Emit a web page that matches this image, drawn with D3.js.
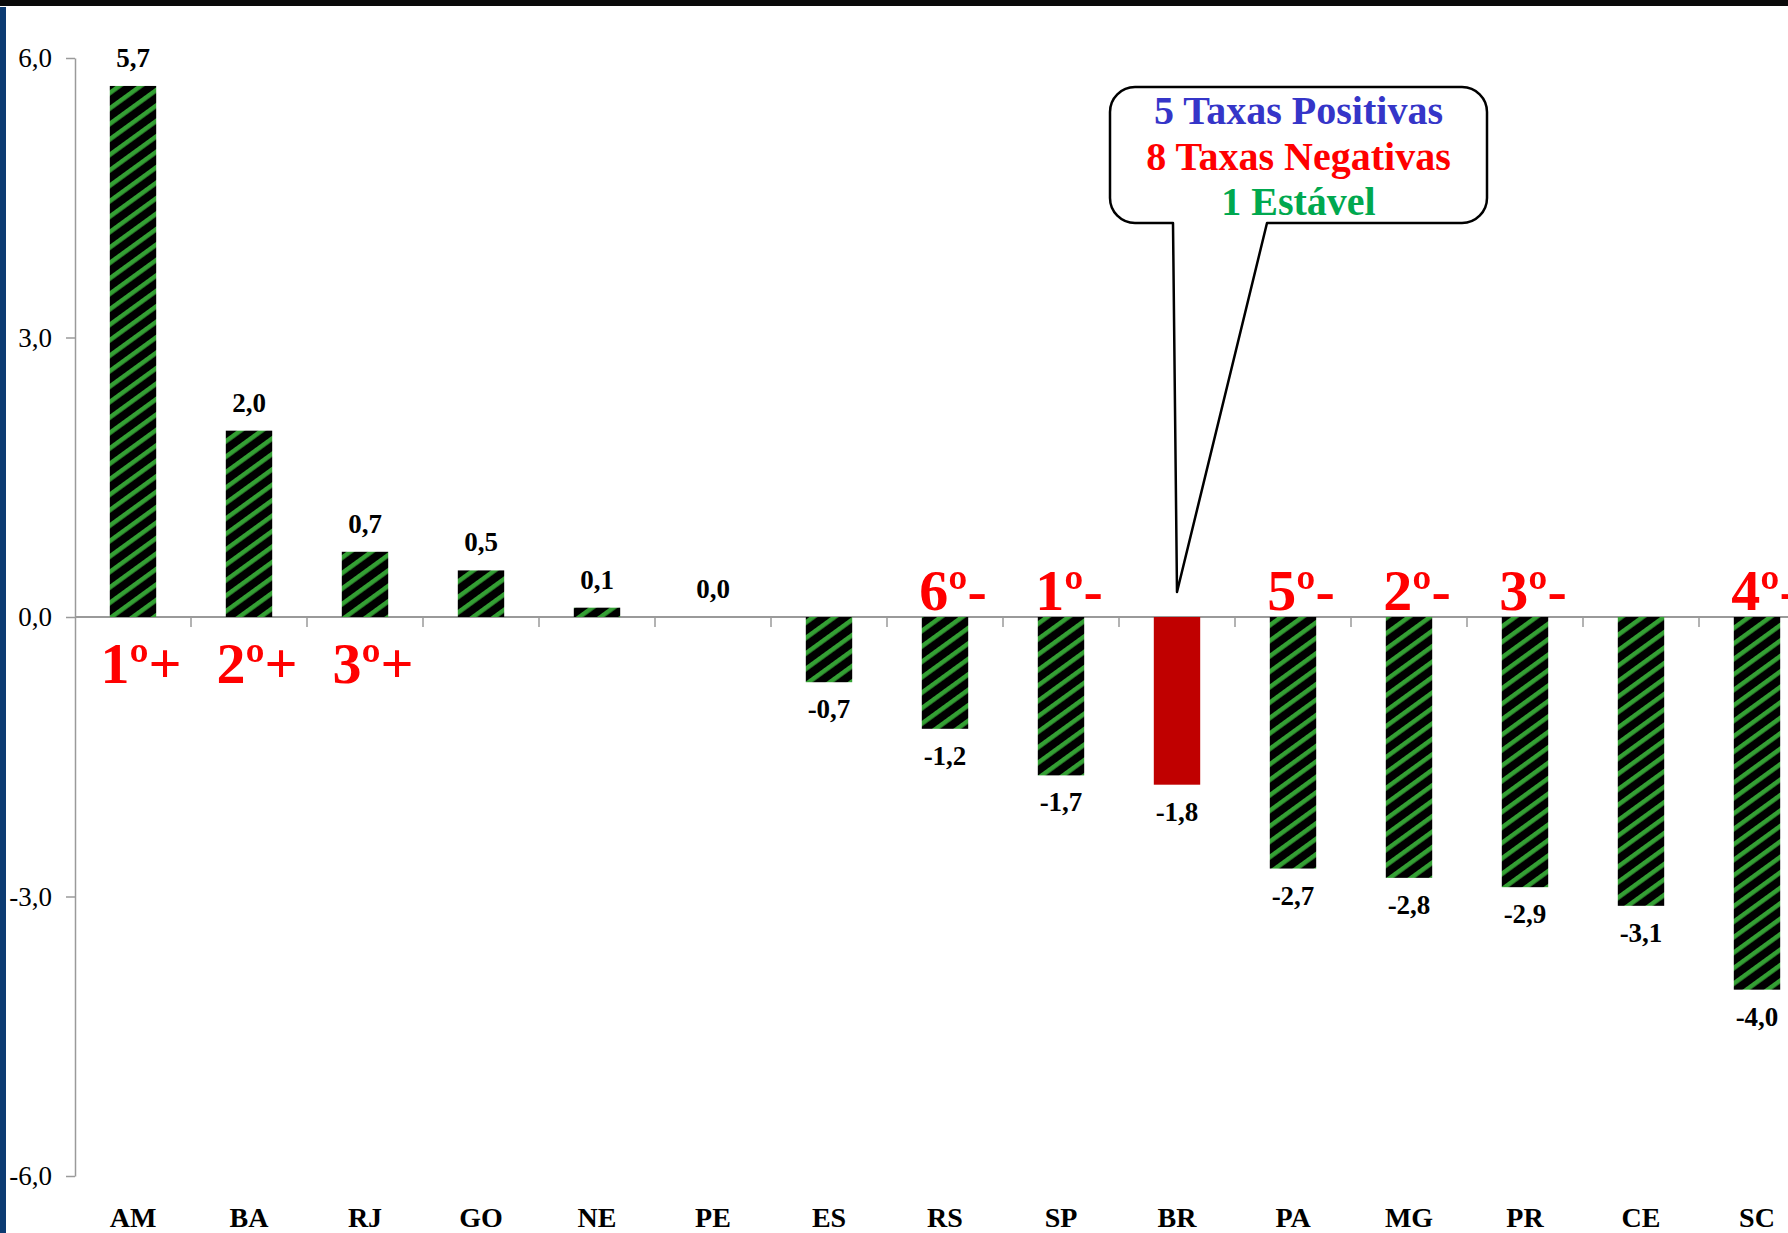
<!DOCTYPE html>
<html>
<head>
<meta charset="utf-8">
<script src="https://cdn.jsdelivr.net/npm/d3@7"></script>
<style>
  body { margin: 0; background: #fff; }
  svg { display: block; }
</style>
</head>
<body>
<div id="chart"></div>
<script>
// Data
var categories = ["AM", "BA", "RJ", "GO", "NE", "PE", "ES", "RS", "SP", "BR", "PA", "MG", "PR", "CE", "SC"];
var values = [5.7, 2.0, 0.7, 0.5, 0.1, 0.0, -0.7, -1.2, -1.7, -1.8, -2.7, -2.8, -2.9, -3.1, -4.0];
var yTicks = [-6, -3, 0, 3, 6];
var highlightCat = "BR";

// ranking labels (red)
var rankCats = ["AM", "BA", "RJ", "RS", "SP", "PA", "MG", "PR", "SC"];
var rankTexts = ["1º+", "2º+", "3º+", "6º-", "1º-", "5º-", "2º-", "3º-", "4º-"];

// callout text
var calloutLines = ["5 Taxas Positivas", "8 Taxas Negativas", "1 Estável"];
var calloutColors = ["#3535c8", "#ff0000", "#00a84f"];

var W = 1788, H = 1233;
var serif = "'Liberation Serif', 'Times New Roman', serif";

var fmt = d3.formatLocale({ decimal: ",", thousands: ".", grouping: [3], currency: ["R$", ""], minus: "-" }).format(".1f");

var svg = d3.select("#chart").append("svg")
    .attr("width", W)
    .attr("height", H);

// hatch pattern for the bars (stripes rising ~36 deg)
var defs = svg.append("defs");
var pat = defs.append("pattern")
    .attr("id", "hatch")
    .attr("patternUnits", "userSpaceOnUse")
    .attr("width", 12.5)
    .attr("height", 12.5)
    .attr("patternTransform", "rotate(54)");
pat.append("rect").attr("width", 12.5).attr("height", 12.5).attr("fill", "#000");
pat.append("rect").attr("x", 0).attr("width", 4.5).attr("height", 12.5).attr("fill", "#34a034");

// frame decorations
svg.append("rect").attr("x", 0).attr("y", 0).attr("width", W).attr("height", 6).attr("fill", "#0a0a0a");
svg.append("rect").attr("x", 0).attr("y", 7).attr("width", 6).attr("height", H - 7).attr("fill", "#0c3b72");

// scales
var x = d3.scaleBand()
    .domain(categories)
    .range([75, 75 + 116 * categories.length])
    .paddingInner(0.6)
    .paddingOuter(0.3);

var y = d3.scaleLinear()
    .domain([-6, 6])
    .range([1176, 58]);

var gap = x.step() - x.bandwidth();

// y axis
var yAxis = svg.append("g")
    .attr("transform", "translate(" + x.range()[0] + ",0)")
    .call(d3.axisLeft(y).tickValues(yTicks).tickFormat(fmt).tickSizeInner(9).tickSizeOuter(0).tickPadding(14));
yAxis.select(".domain").attr("stroke", "#9a9a9a").attr("stroke-width", 1.5);
yAxis.selectAll(".tick line").attr("stroke", "#9a9a9a").attr("stroke-width", 1.5);
yAxis.selectAll(".tick text")
    .attr("font-family", serif)
    .attr("font-size", 27)
    .attr("fill", "#000");

// zero line + category separators
svg.append("line")
    .attr("x1", x.range()[0]).attr("x2", W)
    .attr("y1", y(0)).attr("y2", y(0))
    .attr("stroke", "#9a9a9a").attr("stroke-width", 1.8);

svg.selectAll(".sep")
    .data(categories.slice(1))
    .enter()
    .append("line")
    .attr("class", "sep")
    .attr("x1", function(d) { return x(d) - gap / 2; })
    .attr("x2", function(d) { return x(d) - gap / 2; })
    .attr("y1", y(0))
    .attr("y2", y(0) + 10)
    .attr("stroke", "#9a9a9a").attr("stroke-width", 1.5);

var data = categories.map(function(c, i) { return { cat: c, v: values[i] }; });

// bars
svg.selectAll(".bar")
    .data(data)
    .enter()
    .append("rect")
    .attr("class", "bar")
    .attr("x", function(d) { return x(d.cat); })
    .attr("width", x.bandwidth())
    .attr("y", function(d) { return y(Math.max(0, d.v)); })
    .attr("height", function(d) { return Math.abs(y(d.v) - y(0)); })
    .attr("fill", function(d) { return d.cat == highlightCat ? "#c00000" : "url(#hatch)"; });

// value labels
svg.selectAll(".val")
    .data(data)
    .enter()
    .append("text")
    .attr("class", "val")
    .attr("x", function(d) { return x(d.cat) + x.bandwidth() / 2; })
    .attr("y", function(d) { return d.v >= 0 ? y(d.v) - 19 : y(d.v) + 36; })
    .attr("text-anchor", "middle")
    .attr("font-family", serif)
    .attr("font-weight", "bold")
    .attr("font-size", 27)
    .attr("fill", "#000")
    .text(function(d) { return fmt(d.v); });

// category labels
svg.selectAll(".cat")
    .data(categories)
    .enter()
    .append("text")
    .attr("class", "cat")
    .attr("x", function(d) { return x(d) + x.bandwidth() / 2; })
    .attr("y", 1227)
    .attr("text-anchor", "middle")
    .attr("font-family", serif)
    .attr("font-weight", "bold")
    .attr("font-size", 28)
    .attr("fill", "#000")
    .text(function(d) { return d; });

// ranking labels: positives below the zero line, negatives above it
svg.selectAll(".rank")
    .data(rankCats)
    .enter()
    .append("text")
    .attr("class", "rank")
    .attr("x", function(d) { return x(d) + x.bandwidth() / 2 + 8; })
    .attr("y", function(d, i) { return rankTexts[i].slice(-1) == "+" ? 683 : 610; })
    .attr("text-anchor", "middle")
    .attr("font-family", serif)
    .attr("font-weight", "bold")
    .attr("font-size", 58)
    .attr("fill", "#ff0000")
    .text(function(d, i) { return rankTexts[i]; });

// callout box pointing to BR
var bx0 = 1110, bx1 = 1487, by0 = 87, by1 = 223, r = 25;
var tipX = x(highlightCat) + x.bandwidth() / 2, tipY = 592;
var p = d3.path();
p.moveTo(bx0 + r, by0);
p.lineTo(bx1 - r, by0);
p.arcTo(bx1, by0, bx1, by0 + r, r);
p.lineTo(bx1, by1 - r);
p.arcTo(bx1, by1, bx1 - r, by1, r);
p.lineTo(1267, by1);
p.lineTo(tipX, tipY);
p.lineTo(1173, by1);
p.lineTo(bx0 + r, by1);
p.arcTo(bx0, by1, bx0, by1 - r, r);
p.lineTo(bx0, by0 + r);
p.arcTo(bx0, by0, bx0 + r, by0, r);
p.closePath();

svg.append("path")
    .attr("d", p.toString())
    .attr("fill", "#fff")
    .attr("stroke", "#000")
    .attr("stroke-width", 2.5)
    .attr("stroke-linejoin", "round");

svg.selectAll(".callout")
    .data(calloutLines)
    .enter()
    .append("text")
    .attr("class", "callout")
    .attr("x", (bx0 + bx1) / 2)
    .attr("y", function(d, i) { return 124 + i * 45.5; })
    .attr("text-anchor", "middle")
    .attr("font-family", serif)
    .attr("font-weight", "bold")
    .attr("font-size", 40)
    .attr("fill", function(d, i) { return calloutColors[i]; })
    .text(function(d) { return d; });
</script>
</body>
</html>
